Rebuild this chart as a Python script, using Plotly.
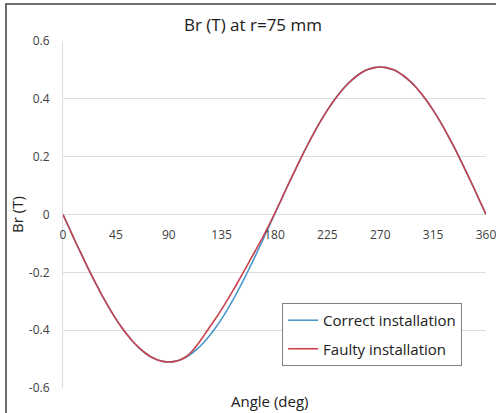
import plotly.graph_objects as go

angles = list(range(0, 365, 5))

correct = [0, -0.044, -0.089, -0.132, -0.174, -0.216, -0.255, -0.293, -0.328, -0.361,
           -0.391, -0.418, -0.442, -0.462, -0.479, -0.493, -0.502, -0.508, -0.510,
           -0.508, -0.502, -0.493, -0.479, -0.462, -0.442, -0.418, -0.391, -0.361,
           -0.328, -0.293, -0.255, -0.216, -0.174, -0.132, -0.089, -0.044, 0,
           0.044, 0.089, 0.132, 0.174, 0.216, 0.255, 0.293, 0.328, 0.361,
           0.391, 0.418, 0.442, 0.462, 0.479, 0.493, 0.502, 0.508, 0.510,
           0.508, 0.502, 0.493, 0.479, 0.462, 0.442, 0.418, 0.391, 0.361,
           0.328, 0.293, 0.255, 0.216, 0.174, 0.132, 0.089, 0.044, 0]

faulty = [0, -0.044, -0.089, -0.132, -0.174, -0.216, -0.255, -0.293, -0.328, -0.361,
          -0.391, -0.418, -0.442, -0.462, -0.479, -0.493, -0.502, -0.508, -0.510,
          -0.508, -0.502, -0.491, -0.472, -0.447, -0.418, -0.388, -0.359, -0.328,
          -0.295, -0.261, -0.225, -0.189, -0.152, -0.116, -0.079, -0.039, 0.002,
          0.045, 0.089, 0.132, 0.174, 0.216, 0.255, 0.293, 0.328, 0.361,
          0.391, 0.418, 0.442, 0.462, 0.479, 0.493, 0.502, 0.508, 0.510,
          0.508, 0.502, 0.493, 0.479, 0.462, 0.442, 0.418, 0.391, 0.361,
          0.328, 0.293, 0.255, 0.216, 0.174, 0.132, 0.089, 0.044, 0]

x_ticks = [0, 45, 90, 135, 180, 225, 270, 315, 360]
y_ticks = [-0.6, -0.4, -0.2, 0, 0.2, 0.4, 0.6]
y_tick_labels = ["-0.6", "-0.4", "-0.2", "0", "0.2", "0.4", "0.6"]

FONT = "Open Sans"

fig = go.Figure()
fig.add_trace(go.Scatter(x=angles, y=correct, mode="lines", name="Correct installation",
                         legendgroup="a",
                         line=dict(color="#4a98cc", width=1.6, shape="spline")))
fig.add_trace(go.Scatter(x=angles, y=faulty, mode="lines", name="Faulty installation",
                         legendgroup="b",
                         line=dict(color="#c8424e", width=1.6, shape="spline")))

fig.update_layout(
    width=496, height=413,
    margin=dict(l=63, r=10, t=41, b=25, autoexpand=False),
    paper_bgcolor="white", plot_bgcolor="white",
    font=dict(family=FONT, color="#404040", size=12),
    title=dict(text="Br (T) at r=75 mm", x=0.51, xanchor="center",
               y=1 - 25 / 413, yanchor="middle", yref="container",
               font=dict(size=17, color="#202020", family=FONT)),
    xaxis=dict(range=[0, 360], tickvals=x_ticks, ticktext=[str(v) for v in x_ticks],
               anchor="free", position=0.5, showgrid=False, showline=False,
               zeroline=False, ticks="outside", ticklen=9, tickcolor="rgba(0,0,0,0)",
               ticklabeloverflow="allow", automargin=False,
               tickfont=dict(size=12, color="#404040")),
    yaxis=dict(range=[-0.6, 0.6], tickvals=y_ticks, ticktext=y_tick_labels,
               showgrid=True, gridcolor="#dcdcdc", gridwidth=1,
               zeroline=True, zerolinecolor="#dcdcdc", zerolinewidth=1,
               showline=True, linecolor="#dcdcdc", linewidth=1,
               ticks="outside", ticklen=10, tickcolor="rgba(0,0,0,0)",
               automargin=False,
               tickfont=dict(size=12, color="#404040"),
               title=dict(text="Br (T)", font=dict(size=15, color="#202020"), standoff=1)),
    legend=dict(x=0.518, y=0.245, xanchor="left", yanchor="top",
                bordercolor="#808080", borderwidth=1, bgcolor="white",
                font=dict(size=15, color="#202020"), tracegroupgap=6,
                traceorder="grouped", itemwidth=30),
    showlegend=True,
)

fig.add_annotation(text="Angle (deg)", xref="paper", yref="paper", x=0.49, y=-0.0375,
                   xanchor="center", yanchor="middle", showarrow=False,
                   font=dict(size=15, color="#202020", family=FONT))

fig.add_shape(type="path", xref="paper", yref="paper",
              path="M -0.1348,-0.2 L -0.1348,1.1066 L 1.2,1.1066",
              line=dict(color="#404040", width=1.5), layer="above")

fig.write_html("out.html", config={"displayModeBar": False},
               post_script="document.body.style.margin='0px';document.body.style.overflow='hidden';")
